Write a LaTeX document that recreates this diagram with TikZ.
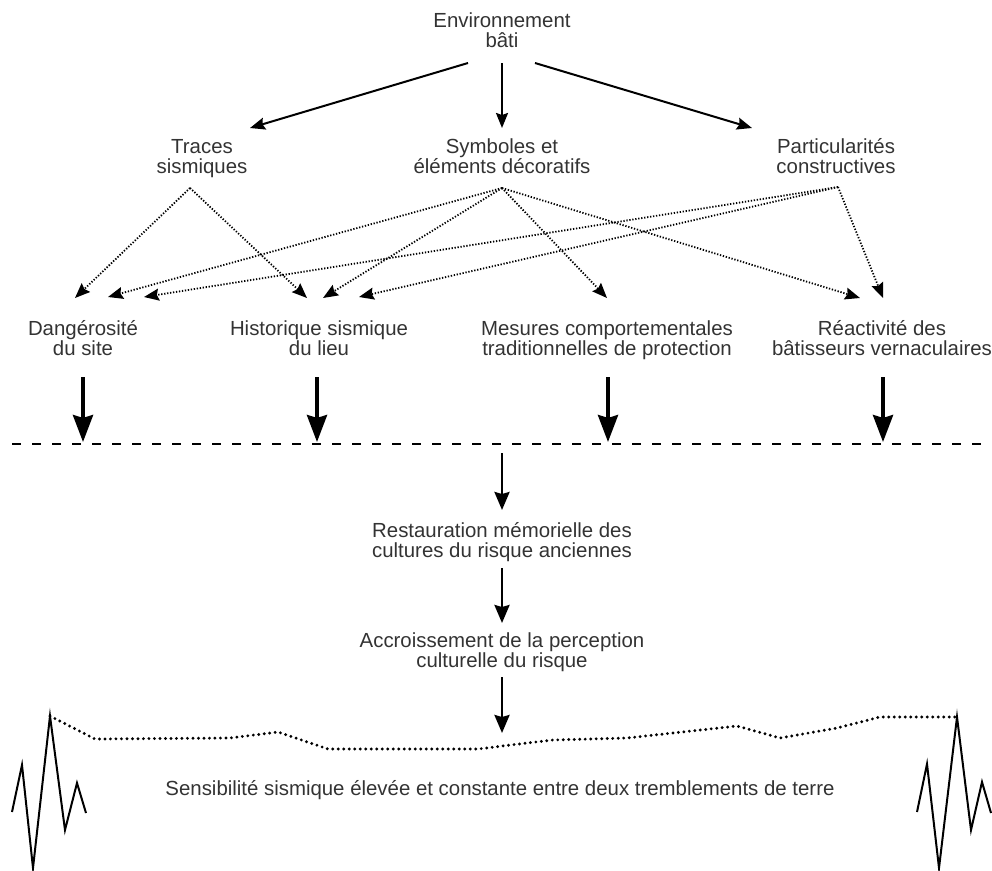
\documentclass[tikz,border=0pt]{standalone}
\usepackage{fontspec}
\setmainfont{Liberation Sans}
\usetikzlibrary{arrows.meta}
\begin{document}
\begin{tikzpicture}[x=1pt,y=-1pt,
  lbl/.style={font=\fontsize{20.4pt}{20pt}\selectfont, text=black!80, align=center, inner sep=0pt, anchor=base},
  tree/.style={line width=2pt, -{Stealth[length=15pt,width=12pt,inset=2pt]}},
  hint/.style={line width=1.8pt, dash pattern=on 1.3pt off 1.7pt, -{Stealth[length=15pt,width=12pt,inset=2pt]}},
  push/.style={line width=4pt, -{Stealth[length=27pt,width=20pt,inset=3pt]}},
  flow/.style={line width=2.6pt, -{Stealth[length=18pt,width=15pt,inset=2pt]}},
  cut/.style={line width=2pt, dash pattern=on 9pt off 11pt},
  quake/.style={line width=2pt, line join=miter},
  calm/.style={line width=3.2pt, dash pattern=on 0pt off 5.5pt, line cap=round},
  ]
\useasboundingbox (0,0) rectangle (992,870);

% ---- labels (anchored on the baseline of their last line) ----
\node[lbl] (env) at (502,47)  {Environnement\\bâti};
\node[lbl] (tra) at (202,173) {Traces\\sismiques};
\node[lbl] (sym) at (502,173) {Symboles et\\éléments décoratifs};
\node[lbl] (par) at (836,173) {Particularités\\constructives};
\node[lbl] (dan) at (83,355)  {Dangérosité\\du site};
\node[lbl] (his) at (319,355) {Historique sismique\\du lieu};
\node[lbl] (mes) at (607,355) {Mesures comportementales\\traditionnelles de protection};
\node[lbl] (rea) at (882,355) {Réactivité des\\bâtisseurs vernaculaires};
\node[lbl] (res) at (502,557) {Restauration mémorielle des\\cultures du risque anciennes};
\node[lbl] (acc) at (502,667) {Accroissement de la perception\\culturelle du risque};
\node[lbl] (sen) at (500,795) {Sensibilité sismique élevée et constante entre deux tremblements de terre};

% ---- connector ends ----
\coordinate (envL) at (468,63);  \coordinate (traT) at (250,128);
\coordinate (envM) at (502,63);  \coordinate (symT) at (502,128);
\coordinate (envR) at (535,63);  \coordinate (parT) at (752,128);

\coordinate (traB) at (190,188);
\coordinate (symB) at (502,188);
\coordinate (parB) at (838,187);
\coordinate (danA) at (75,298);  \coordinate (danB) at (108,297); \coordinate (danC) at (144,297);
\coordinate (hisA) at (307,298); \coordinate (hisB) at (323,298); \coordinate (hisC) at (359,297);
\coordinate (mesA) at (607,298);
\coordinate (reaA) at (860,298); \coordinate (reaB) at (883,298);

\coordinate (danS) at (83,377);  \coordinate (danE) at (83,442);
\coordinate (hisS) at (317,377); \coordinate (hisE) at (317,442);
\coordinate (mesS) at (608,377); \coordinate (mesE) at (608,442);
\coordinate (reaS) at (883,377); \coordinate (reaE) at (883,442);

\coordinate (cutL) at (12,444);  \coordinate (cutR) at (992,444);
\coordinate (cutM) at (502,453); \coordinate (resT) at (502,510);
\coordinate (resB) at (502,568); \coordinate (accT) at (502,623);
\coordinate (accB) at (502,677); \coordinate (calmT) at (502,733);

% ---- built environment to its three readings ----
\draw[tree] (envL) -- (traT);
\draw[tree] (envM) -- (symT);
\draw[tree] (envR) -- (parT);

% ---- readings to the four deductions ----
\draw[hint] (traB) -- (danA);
\draw[hint] (traB) -- (hisA);
\draw[hint] (symB) -- (danB);
\draw[hint] (symB) -- (hisB);
\draw[hint] (symB) -- (mesA);
\draw[hint] (symB) -- (reaA);
\draw[hint] (parB) -- (danC);
\draw[hint] (parB) -- (hisC);
\draw[hint] (parB) -- (reaB);

% ---- deductions down to the threshold ----
\draw[push] (danS) -- (danE);
\draw[push] (hisS) -- (hisE);
\draw[push] (mesS) -- (mesE);
\draw[push] (reaS) -- (reaE);
\draw[cut] (cutL) -- (cutR);

% ---- central chain ----
\draw[flow] (cutM) -- (resT);
\draw[flow] (resB) -- (accT);
\draw[flow] (accB) -- (calmT);

% ---- two earthquakes and the calm between them ----
\draw[quake] (12,812) -- (22,765) -- (33,868) -- (50,716) -- (65,830) -- (77,783) -- (86,813);
\draw[quake] (917,812) -- (927,764) -- (939,868) -- (957,717) -- (971,830) -- (982,782) -- (991,813);
\draw[calm] (50,716) -- (95,739) -- (230,738) -- (278,732) -- (328,749) -- (478,749)
  -- (527,743) -- (553,740) -- (627,738) -- (737,726) -- (780,738) -- (837,728)
  -- (880,717) -- (957,717);
\end{tikzpicture}
\end{document}
